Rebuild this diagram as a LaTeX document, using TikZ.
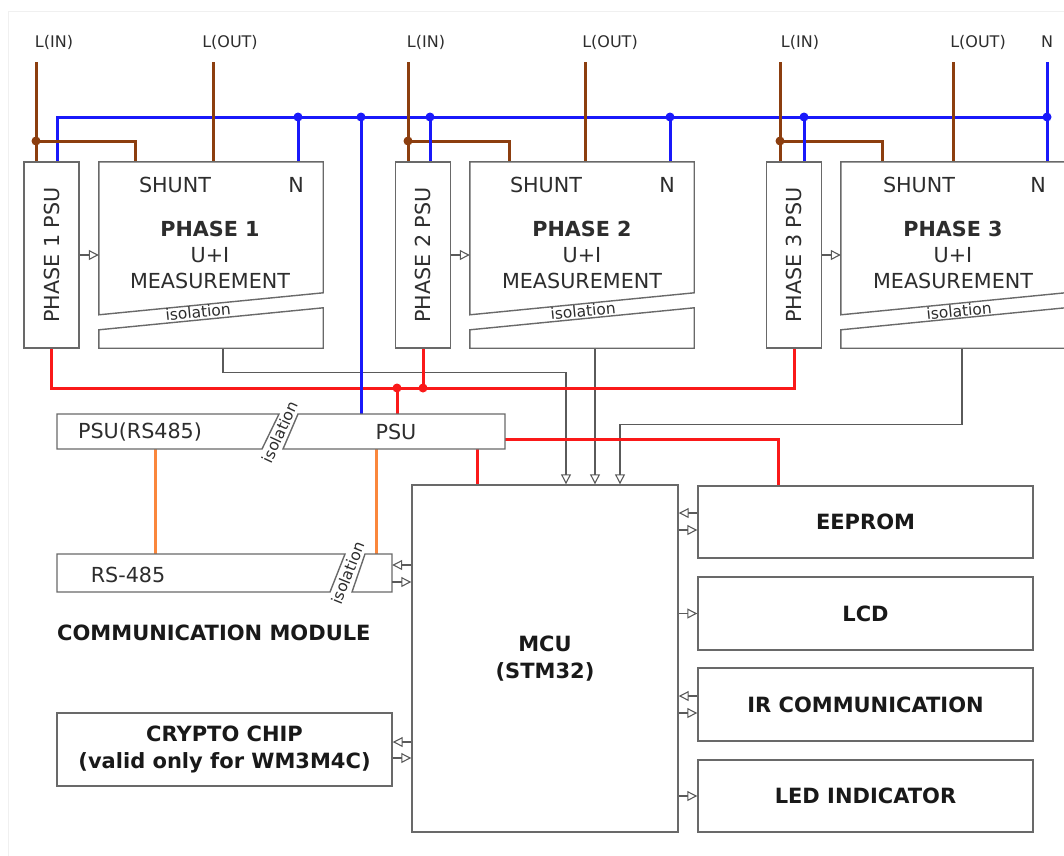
\documentclass[tikz,border=0pt]{standalone}
\usepackage{fontspec}
\setmainfont{DejaVu Sans}
\usepackage{tikz}
\usetikzlibrary{arrows.meta,calc,backgrounds}
\usepackage{xcolor}
\definecolor{boxgray}{RGB}{105,105,105}
\definecolor{siggray}{RGB}{90,90,90}
\definecolor{txtgray}{RGB}{45,45,45}
\definecolor{linebrown}{RGB}{140,62,15}
\definecolor{lineblue}{RGB}{25,25,250}
\definecolor{linered}{RGB}{250,25,25}
\definecolor{lineorange}{RGB}{250,135,60}
\newcommand{\mtrreg}{\fontsize{20.7}{26}\selectfont}
\newcommand{\mtrbold}{\bfseries\fontsize{21}{27}\selectfont}
\newcommand{\mtrsmall}{\fontsize{16}{18}\selectfont}
\newcommand{\mtriso}{\fontsize{15.5}{16}\selectfont}

\begin{document}
\begin{tikzpicture}[x=1pt, y=-1pt,
    outline/.style={draw=boxgray, line width=1.4pt},
    psubox/.style={outline, fill=white, minimum width=55pt, minimum height=186pt, inner sep=0pt, font=\mtrreg, text=txtgray},
    area/.style={minimum width=224pt, minimum height=186pt, inner sep=0pt},
    block/.style={outline, fill=white, minimum width=335pt, minimum height=72pt, align=center, font=\mtrbold, text=black!90},
    txt/.style={font=\mtrreg, text=txtgray, inner sep=0pt, align=center},
    wirelbl/.style={font=\mtrsmall, text=txtgray, inner sep=0pt},
    iso/.style={font=\mtriso, text=txtgray, inner sep=0pt},
    dot/.style={circle, inner sep=0pt, minimum size=9pt},
    wire/.style={line width=3pt},
    sig/.style={draw=siggray, line width=1.1pt},
    arrow/.style={sig, -{Triangle[open, length=10pt, width=10pt, line width=1.1pt]}}
]
    \useasboundingbox (0,0) rectangle (1064,855);
    \clip (0,0) rectangle (1064,855);
    \draw[gray!12, line width=1pt] (8,11) rectangle (1075,866);

    % phase supplies and measurement areas
    \node[psubox] (psu1) at (51.5,255) {\rotatebox{90}{PHASE 1 PSU}};
    \node[area] (meas1) at (211,255) {};
    \node[psubox] (psu2) at (423,255) {\rotatebox{90}{PHASE 2 PSU}};
    \node[area] (meas2) at (582,255) {};
    \node[psubox] (psu3) at (794,255) {\rotatebox{90}{PHASE 3 PSU}};
    \node[area] (meas3) at (953,255) {};

    \draw[outline, fill=white] (meas1.north west) -- (meas1.north east) -- ([yshift=-131pt]meas1.north east) -- ([yshift=-153pt]meas1.north west) -- cycle;
    \draw[outline, fill=white] ([yshift=-168pt]meas1.north west) -- ([yshift=-146pt]meas1.north east) -- (meas1.south east) -- (meas1.south west) -- cycle;
    \draw[outline, fill=white] (meas2.north west) -- (meas2.north east) -- ([yshift=-131pt]meas2.north east) -- ([yshift=-153pt]meas2.north west) -- cycle;
    \draw[outline, fill=white] ([yshift=-168pt]meas2.north west) -- ([yshift=-146pt]meas2.north east) -- (meas2.south east) -- (meas2.south west) -- cycle;
    \draw[outline, fill=white] (meas3.north west) -- (meas3.north east) -- ([yshift=-131pt]meas3.north east) -- ([yshift=-153pt]meas3.north west) -- cycle;
    \draw[outline, fill=white] ([yshift=-168pt]meas3.north west) -- ([yshift=-146pt]meas3.north east) -- (meas3.south east) -- (meas3.south west) -- cycle;

    \node[txt] (shunt1) at (175,185) {SHUNT};
    \node[txt] (nin1) at (296,185) {N};
    \node[txt] (title1) at (210,255) {\textbf{PHASE 1}\\U+I\\MEASUREMENT};
    \node[iso, rotate=5.6] (iso1) at (198,312) {isolation};
    \node[txt] (shunt2) at (546,185) {SHUNT};
    \node[txt] (nin2) at (667,185) {N};
    \node[txt] (title2) at (582,255) {\textbf{PHASE 2}\\U+I\\MEASUREMENT};
    \node[iso, rotate=5.6] (iso2) at (583,311) {isolation};
    \node[txt] (shunt3) at (919,185) {SHUNT};
    \node[txt] (nin3) at (1038,185) {N};
    \node[txt] (title3) at (953,255) {\textbf{PHASE 3}\\U+I\\MEASUREMENT};
    \node[iso, rotate=5.6] (iso3) at (959,311) {isolation};

    % terminals
    \node[wirelbl] (lin1) at (54,42) {L(IN)};
    \node[wirelbl] (lout1) at (230,42) {L(OUT)};
    \node[wirelbl] (lin2) at (426,42) {L(IN)};
    \node[wirelbl] (lout2) at (610,42) {L(OUT)};
    \node[wirelbl] (lin3) at (800,42) {L(IN)};
    \node[wirelbl] (lout3) at (978,42) {L(OUT)};
    \node[wirelbl] (nlbl) at (1047,42) {N};
    \coordinate (w1) at (36,62);
    \coordinate (w2) at (213,62);
    \coordinate (w3) at (408,62);
    \coordinate (w4) at (585,62);
    \coordinate (w5) at (780,62);
    \coordinate (w6) at (953,62);
    \coordinate (ntop) at (1047,62);

    % main supply and communication
    \node[area, minimum width=448pt, minimum height=35pt] (psurow) at (281,431.5) {};
    \draw[outline, fill=white] (57,414) -- (279,414) -- (262,449) -- (57,449) -- cycle;
    \draw[outline, fill=white] (298,414) -- (505,414) -- (505,449) -- (283,449) -- cycle;
    \node[txt] (psurstxt) at (140,432) {PSU(RS485)};
    \node[txt] (psutxt) at (396,432) {PSU};
    \node[iso, rotate=65] (iso4) at (280,432) {isolation};

    \node[area, minimum width=335pt, minimum height=38pt] (rs) at (224.5,573) {};
    \draw[outline, fill=white] (57,554) -- (345,554) -- (330,592) -- (57,592) -- cycle;
    \draw[outline, fill=white] (365,554) -- (392,554) -- (392,592) -- (352,592) -- cycle;
    \node[txt] (rstxt) at (128,575) {RS-485};
    \node[iso, rotate=68] (iso5) at (348,573) {isolation};

    \node[font=\mtrbold, text=black!90, anchor=west, inner sep=0pt] (comm) at (57,633) {COMMUNICATION MODULE};
    \node[block, minimum height=73pt] (crypto) at (224.5,749.5) {CRYPTO CHIP\\(valid only for WM3M4C)};

    \node[outline, minimum width=266pt, minimum height=347pt, font=\mtrbold, text=black!90, align=center] (mcu) at (545,658.5) {MCU\\(STM32)};
    \node[block] (eeprom) at (865.5,522) {EEPROM};
    \node[block, minimum height=73pt] (lcd) at (865.5,613.5) {LCD};
    \node[block, minimum height=73pt] (ir) at (865.5,704.5) {IR COMMUNICATION};
    \node[block] (led) at (865.5,796) {LED INDICATOR};

    % junctions
    \node[dot, fill=linebrown] (b1) at (36,141) {};
    \node[dot, fill=linebrown] (b2) at (408,141) {};
    \node[dot, fill=linebrown] (b3) at (780,141) {};
    \node[dot, fill=lineblue] (j0) at (361,117) {};
    \node[dot, fill=lineblue] (j1) at (298,117) {};
    \node[dot, fill=lineblue] (j2) at (430,117) {};
    \node[dot, fill=lineblue] (j3) at (670,117) {};
    \node[dot, fill=lineblue] (j4) at (804,117) {};
    \node[dot, fill=lineblue] (j5) at (1047,117) {};
    \node[dot, fill=linered] (r1) at (397,388) {};
    \node[dot, fill=linered] (r2) at (423,388) {};

    \begin{scope}[on background layer]
        % measurement signals
        \draw[arrow] (meas1.south -| 223,0) -- ++(0,24) -| (mcu.north -| 566,0);
        \draw[arrow] (meas2.south -| 595,0) -- (mcu.north -| 595,0);
        \draw[arrow] (meas3.south -| 962,0) -- ++(0,76) -| (mcu.north -| 620,0);
        % supply rails
        \draw[wire, linered] (psu1.south) -- ++(0,40) -| (psu3.south);
        \draw[wire, linered] (psu2.south) -- (r2.center);
        \draw[wire, linered] (r1.center) -- (r1 |- psurow.north);
        \draw[wire, linered] (psurow.east |- 0,439) -| (eeprom.north -| 778,0);
        \draw[wire, linered] (psurow.south -| 477,0) -- (mcu.north -| 477,0);
        \draw[wire, lineorange] (psurow.south -| 155,0) -- (rs.north -| 155,0);
        \draw[wire, lineorange] (psurow.south -| 376,0) -- (rs.north -| 376,0);
        % neutral
        \draw[wire, lineblue] ([xshift=5.5pt]psu1.north) |- (j5.center);
        \draw[wire, lineblue] (ntop) -- (ntop |- meas3.north);
        \draw[wire, lineblue] (j1.center) -- (j1 |- meas1.north);
        \draw[wire, lineblue] (j3.center) -- (j3 |- meas2.north);
        \draw[wire, lineblue] (j0.center) -- (j0 |- psurow.north);
        % lines
        \draw[wire, linebrown] (w1) -- (w1 |- psu1.north);
        \draw[wire, linebrown] (b1.center) -| ([xshift=37pt]meas1.north west);
        \draw[wire, linebrown] (w2) -- (w2 |- meas1.north);
        \draw[wire, linebrown] (w3) -- (w3 |- psu2.north);
        \draw[wire, linebrown] (b2.center) -| ([xshift=40pt]meas2.north west);
        \draw[wire, linebrown] (w4) -- (w4 |- meas2.north);
        \draw[wire, linebrown] (w5) -- (w5 |- psu3.north);
        \draw[wire, linebrown] (b3.center) -| ([xshift=42pt]meas3.north west);
        \draw[wire, linebrown] (w6) -- (w6 |- meas3.north);
        \draw[wire, lineblue] (j2.center) -- (j2 |- psu2.north);
        \draw[wire, lineblue] (j4.center) -- (j4 |- psu3.north);
    \end{scope}

    % data paths
    \draw[arrow] (psu1.east) -- (meas1.west);
    \draw[arrow] (psu2.east) -- (meas2.west);
    \draw[arrow] (psu3.east) -- (meas3.west);
    \draw[arrow] (eeprom.west |- 0,513) -- (mcu.east |- 0,513);
    \draw[arrow] (mcu.east |- 0,530) -- (eeprom.west |- 0,530);
    \draw[arrow] (mcu.east |- lcd.west) -- (lcd.west);
    \draw[arrow] (ir.west |- 0,696) -- (mcu.east |- 0,696);
    \draw[arrow] (mcu.east |- 0,713) -- (ir.west |- 0,713);
    \draw[arrow] (mcu.east |- led.west) -- (led.west);
    \draw[arrow] (mcu.west |- 0,565) -- (rs.east |- 0,565);
    \draw[arrow] (rs.east |- 0,582) -- (mcu.west |- 0,582);
    \draw[arrow] (mcu.west |- 0,742) -- (crypto.east |- 0,742);
    \draw[arrow] (crypto.east |- 0,758) -- (mcu.west |- 0,758);
\end{tikzpicture}
\end{document}
